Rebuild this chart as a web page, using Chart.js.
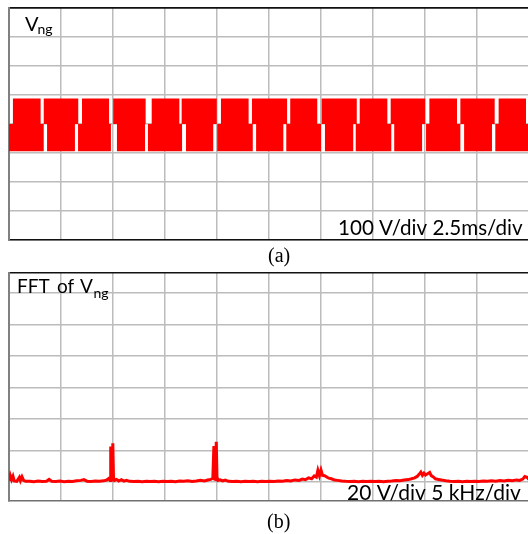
<!DOCTYPE html>
<html>
<head>
<meta charset="utf-8">
<script src="https://cdn.jsdelivr.net/npm/chart.js@4.4.0/dist/chart.umd.min.js"></script>
<style>
    html, body { margin: 0; padding: 0; background: #fff; overflow: hidden; }
    canvas { position: absolute; left: 0; }
</style>
</head>
<body>
<canvas id="chart-a" width="540" height="270" style="top:0"></canvas>
<canvas id="chart-b" width="540" height="264" style="top:270px"></canvas>
<script>
// (a) V_ng vs time: windows (ms) where the switching sits on the + or - level
const upperStart = [0.18, 1.67, 3.51, 5.01, 6.86, 8.30, 10.19, 11.68, 13.52, 15.03, 16.86, 18.35, 20.21, 21.70, 23.54];
const upperEnd   = [1.52, 3.33, 4.81, 6.57, 8.19, 9.99, 11.52, 13.37, 14.82, 16.72, 18.19, 20.01, 21.54, 23.35, 24.86];
const lowerStart = [0.00, 1.83, 3.32, 5.19, 6.68, 8.51, 10.01, 11.88, 13.33, 15.19, 16.67, 18.52, 20.05, 21.88, 23.38];
const lowerEnd   = [1.67, 3.17, 4.90, 6.54, 8.32, 9.82, 11.72, 13.19, 15.00, 16.55, 18.38, 19.86, 21.70, 23.22, 25.00];
const upperLevel = 88;   // V
const lowerLevel = -94;  // V

// grid divisions (100 V/div, 2.5 ms/div)
const timeGrid = [0, 2.5, 5, 7.5, 10, 12.5, 15, 17.5, 20, 22.5, 25];
const voltGrid = [-400, -300, -200, -100, 0, 100, 200, 300, 400];

// (b) FFT of V_ng (kHz, V)
const fftFreq = [0.00, 0.12, 0.25, 0.38, 0.50, 0.75, 1.00, 1.10, 1.25, 1.40, 1.60, 2.00, 2.40, 2.80, 3.20, 3.60, 3.85, 4.10, 4.50, 4.90,
    5.30, 5.70, 6.10, 6.50, 6.90, 7.20, 7.50, 7.90, 8.30, 8.70, 9.10, 9.40, 9.60, 9.72, 9.78, 9.84, 9.92, 9.98, 10.05, 10.15,
    10.35, 10.55, 10.80, 11.05, 11.30, 11.60, 12.00, 12.40, 12.80, 13.20, 13.60, 14.00, 14.40, 14.80, 15.20, 15.60, 16.00, 16.40, 16.80, 17.20,
    17.60, 18.00, 18.40, 18.80, 19.10, 19.40, 19.60, 19.70, 19.77, 19.86, 19.93, 20.00, 20.12, 20.30, 20.55, 20.80, 21.10, 21.50, 21.90, 22.30,
    22.70, 23.10, 23.50, 23.90, 24.30, 24.70, 25.10, 25.50, 25.90, 26.30, 26.70, 27.10, 27.50, 27.90, 28.20, 28.50, 28.80, 29.10, 29.35, 29.55,
    29.70, 29.85, 30.00, 30.15, 30.35, 30.55, 30.75, 31.00, 31.30, 31.60, 32.00, 32.40, 32.80, 33.20, 33.60, 34.00, 34.40, 34.80, 35.20, 35.60,
    36.00, 36.40, 36.80, 37.20, 37.60, 38.00, 38.40, 38.70, 39.00, 39.25, 39.45, 39.60, 39.75, 39.90, 40.05, 40.25, 40.45, 40.60, 40.80, 41.00,
    41.30, 41.60, 42.00, 42.40, 42.80, 43.20, 43.60, 44.00, 44.40, 44.80, 45.20, 45.60, 46.00, 46.40, 46.80, 47.20, 47.60, 48.00, 48.40, 48.80,
    49.10, 49.40, 49.60, 49.80, 50.00];
const fftAmp = [0.8, 4.2, 1.5, 3.6, 0.6, 0.4, 3.0, 0.9, 3.3, 1.0, 0.4, 0.5, 0.2, 0.6, 0.3, 0.5, 1.6, 0.4, 0.3, 0.6,
    0.2, 0.5, 0.3, 0.7, 1.0, 1.5, 0.5, 0.3, 0.6, 0.4, 0.7, 1.2, 2.2, 0.9, 22.5, 1.5, 1.2, 24.5, 2.8, 1.0,
    1.6, 0.6, 1.4, 0.5, 1.0, 0.4, 0.3, 0.5, 0.2, 0.4, 0.3, 0.5, 0.2, 0.4, 0.3, 0.5, 0.2, 0.6, 0.4, 0.7,
    0.3, 0.6, 1.0, 0.6, 1.2, 1.6, 2.4, 22.8, 1.8, 1.6, 25.5, 3.0, 1.0, 1.3, 0.6, 1.2, 0.4, 0.3, 0.5, 0.2,
    0.4, 0.3, 0.5, 0.2, 0.4, 0.3, 0.5, 0.3, 0.6, 0.4, 0.9, 0.6, 1.3, 1.0, 1.8, 1.4, 2.6, 2.0, 3.8, 3.0,
    7.4, 4.0, 7.6, 4.2, 4.0, 3.2, 2.4, 2.0, 1.2, 1.0, 0.6, 0.4, 0.3, 0.5, 0.2, 0.4, 0.3, 0.5, 0.3, 0.4,
    0.2, 0.5, 0.6, 0.9, 0.7, 1.2, 1.5, 2.0, 2.6, 3.5, 5.0, 6.3, 4.2, 5.6, 4.4, 5.2, 6.0, 4.0, 3.2, 2.0,
    1.6, 1.2, 0.8, 0.5, 0.3, 0.5, 0.2, 0.4, 0.3, 0.5, 0.3, 0.6, 0.4, 0.7, 0.5, 0.9, 0.6, 1.1, 0.8, 1.3,
    1.0, 1.8, 3.4, 3.0, 1.5];

// grid divisions (20 V/div, 5 kHz/div)
const freqGrid = [0, 5, 10, 15, 20, 25, 30, 35, 40, 45, 50];
const ampGrid = [0, 20, 40, 60, 80, 100, 120];
const ampMin = -12.1;
const ampMax = 132.7;

const gridGrey = '#bcbcbc';

// each window becomes (start, level) -> (end, 0); drawn as a 'before' stepped line
// and filled down to 0 V this gives one rectangle per window
function blockPoints(starts, ends, level) {
    const pts = [];
    starts.forEach((s, i) => {
        pts.push({ x: s, y: level }, { x: ends[i], y: 0 });
    });
    return pts;
}

// inset labels drawn straight on the canvas
const panelText = {
    id: 'panelText',
    afterDraw(chart, args, opts) {
        const ctx = chart.ctx;
        ctx.save();
        ctx.fillStyle = '#000';
        ctx.textBaseline = 'alphabetic';
        opts.items.forEach(item => {
            ctx.font = item.font;
            ctx.fillText(item.text, item.x, item.y);
        });
        ctx.restore();
    }
};

function makeScales(xGrid, xMin, xMax, yGrid, yMin, yMax, bottomColor) {
    return {
        x: {
            type: 'linear',
            min: xMin,
            max: xMax,
            afterBuildTicks: axis => { axis.ticks = xGrid.map(v => ({ value: v })); },
            ticks: { display: false },
            grid: { color: gridGrey, lineWidth: 1.5, drawTicks: false },
            border: { color: bottomColor, width: 1.5 }
        },
        y: {
            type: 'linear',
            min: yMin,
            max: yMax,
            afterBuildTicks: axis => {
                axis.ticks = yGrid.map(v => ({ value: v })).concat([{ value: yMax }]);
            },
            ticks: { display: false },
            grid: {
                color: c => (c.tick && c.tick.value === yMax) ? '#111' : gridGrey,
                lineWidth: 1.5,
                drawTicks: false
            },
            border: { color: '#808080', width: 2 }
        }
    };
}

const commonOptions = {
    responsive: false,
    animation: false,
    events: [],
    plugins: { legend: { display: false }, tooltip: { enabled: false } }
};

function blockDataset(starts, ends, level) {
    return {
        data: blockPoints(starts, ends, level),
        stepped: 'before',
        borderColor: 'rgba(255,0,0,0)',
        borderWidth: 1,
        backgroundColor: '#ff0000',
        fill: 'origin',
        pointRadius: 0
    };
}

new Chart(document.getElementById('chart-a'), {
    type: 'line',
    data: {
        datasets: [
            blockDataset(upperStart, upperEnd, upperLevel),
            blockDataset(lowerStart, lowerEnd, lowerLevel)
        ]
    },
    options: Object.assign({}, commonOptions, {
        layout: { padding: { top: 8, left: 9, right: 11, bottom: 30 } },
        scales: makeScales(timeGrid, 0, 25, voltGrid, -400, 400, '#111'),
        plugins: Object.assign({}, commonOptions.plugins, {
            panelText: {
                items: [
                    { text: 'V', font: '20px Lato', x: 25, y: 31 },
                    { text: 'ng', font: '14px Lato', x: 37.5, y: 33.5 },
                    { text: '100 V/div 2.5ms/div', font: '20.6px Lato', x: 338, y: 235 },
                    { text: '(a)', font: '20px "Liberation Serif"', x: 268, y: 262 }
                ]
            }
        })
    }),
    plugins: [panelText]
});

new Chart(document.getElementById('chart-b'), {
    type: 'line',
    data: {
        datasets: [{
            data: fftFreq.map((f, i) => ({ x: f, y: fftAmp[i] })),
            borderColor: '#ff0000',
            borderWidth: 3,
            pointRadius: 0,
            tension: 0,
            fill: false
        }]
    },
    options: Object.assign({}, commonOptions, {
        layout: { padding: { top: 3, left: 9, right: 11, bottom: 33 } },
        scales: makeScales(freqGrid, 0, 50, ampGrid, ampMin, ampMax, '#707070'),
        plugins: Object.assign({}, commonOptions.plugins, {
            panelText: {
                items: [
                    { text: 'FFT', font: '19px Lato', x: 17, y: 22.7 },
                    { text: 'of', font: '19px Lato', x: 57, y: 22.7 },
                    { text: 'V', font: '19px Lato', x: 80, y: 22.7 },
                    { text: 'ng', font: '14px Lato', x: 93.5, y: 28 },
                    { text: '20 V/div 5 kHz/div', font: '21px Lato', x: 347, y: 230 },
                    { text: '(b)', font: '20px "Liberation Serif"', x: 267, y: 258 }
                ]
            }
        })
    }),
    plugins: [panelText]
});
</script>
</body>
</html>
